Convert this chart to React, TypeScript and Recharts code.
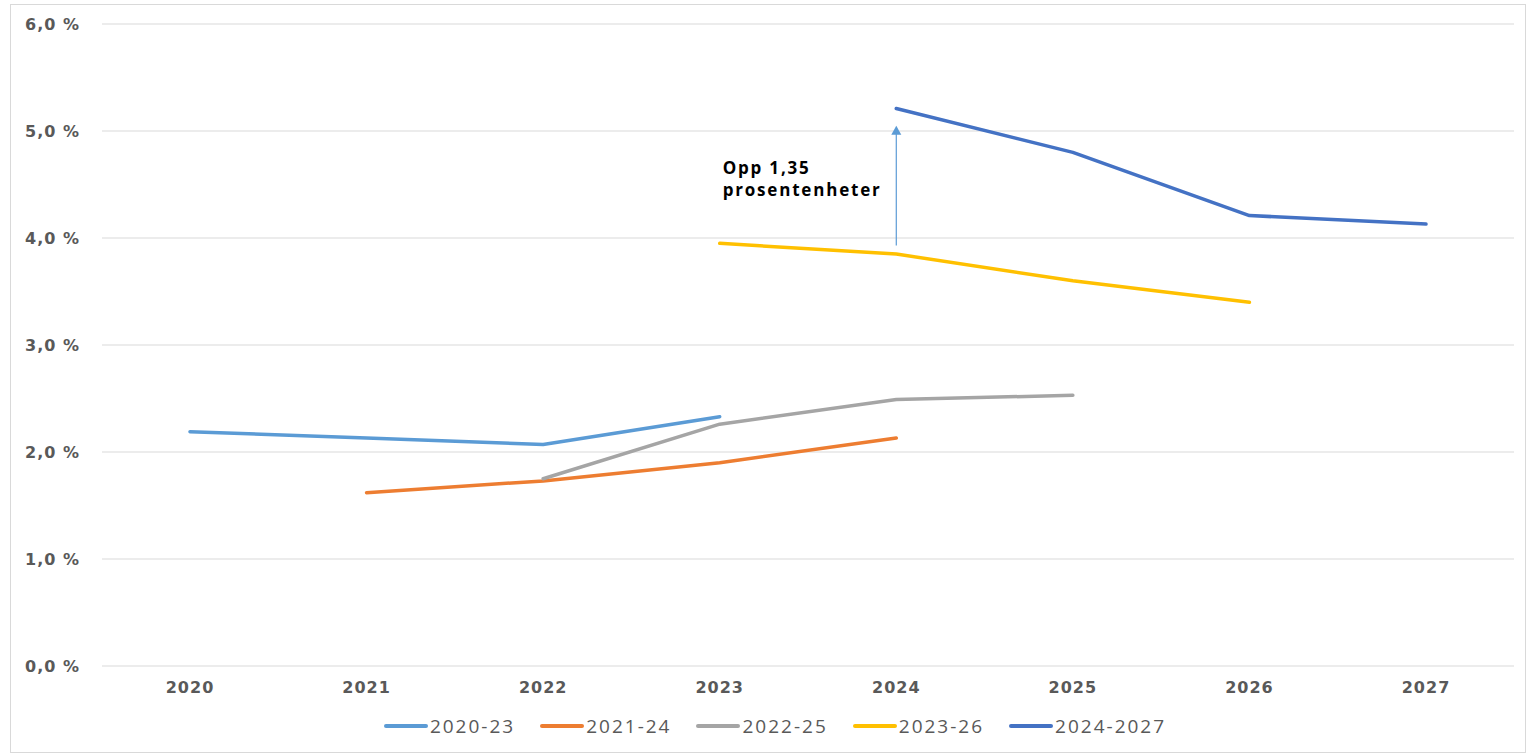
import React from 'react';
import { LineChart, Line, XAxis, YAxis, CartesianGrid, ReferenceLine, ReferenceDot } from 'recharts';

const YEARS = ['2020', '2021', '2022', '2023', '2024', '2025', '2026', '2027'];
const S_2020_23 = [2.19, 2.13, 2.07, 2.33, null, null, null, null];
const S_2021_24 = [null, 1.62, 1.73, 1.9, 2.13, null, null, null];
const S_2022_25 = [null, null, 1.75, 2.26, 2.49, 2.53, null, null];
const S_2023_26 = [null, null, null, 3.95, 3.85, 3.6, 3.4, null];
const S_2024_27 = [null, null, null, null, 5.21, 4.8, 4.21, 4.13];
const Y_TICKS = [0, 1, 2, 3, 4, 5, 6];

const SERIES = [
  { key: '2020-23', values: S_2020_23, color: '#5B9BD5' },
  { key: '2021-24', values: S_2021_24, color: '#ED7D31' },
  { key: '2022-25', values: S_2022_25, color: '#A5A5A5' },
  { key: '2023-26', values: S_2023_26, color: '#FFC000' },
  { key: '2024-2027', values: S_2024_27, color: '#4472C4' },
];

const data = YEARS.map((year, i) => {
  const row: any = { year };
  SERIES.forEach((s) => { row[s.key] = s.values[i]; });
  return row;
});

const fmtPct = (v: number) => `${v.toFixed(1).replace('.', ',')} %`;

const tickStyle = { fill: '#595959', fontSize: 16, fontWeight: 700, fontFamily: 'DejaVu Sans', letterSpacing: 1 };

function Arrow(props: any) {
  const { x1, y1, x2, y2 } = props;
  const top = Math.min(y1, y2);
  const bottom = Math.max(y1, y2);
  return (
    <g>
      <line x1={x1} y1={bottom} x2={x2} y2={top + 8} stroke="#5B9BD5" strokeWidth={1.2} />
      <polygon points={`${x1 - 5},${top + 9} ${x1 + 5},${top + 9} ${x1},${top}`} fill="#5B9BD5" />
    </g>
  );
}

function Note(props: any) {
  const { cx, cy } = props;
  const st = { fontFamily: 'Open Sans', fontWeight: 700, fontSize: 17, letterSpacing: 1.8, fill: '#000' };
  return (
    <text x={cx + 3} y={cy} style={st}>
      <tspan x={cx + 3} dy={0}>Opp 1,35</tspan>
      <tspan x={cx + 3} dy={22}>prosentenheter</tspan>
    </text>
  );
}

export default function App() {
  return (
    <div style={{ position: 'absolute', left: 0, top: 0, width: 1530, height: 753, background: '#fff' }}>
      <div style={{ position: 'absolute', left: 10, top: 4, width: 1514, height: 747, border: '1px solid #d9d9d9' }} />
      <div style={{ position: 'absolute', left: 0, top: 0 }}>
        <LineChart width={1530} height={753} data={data} margin={{ top: 24, right: 16, bottom: 57, left: 0 }}>
          <CartesianGrid vertical={false} stroke="#d9d9d9" strokeWidth={1.2} />
          <XAxis dataKey="year" axisLine={false} tickLine={false} tickSize={0} tickMargin={16} height={30} tick={tickStyle} interval={0} padding={{ left: 88, right: 88 }} />
          <YAxis domain={[0, 6]} ticks={Y_TICKS} tickFormatter={fmtPct} axisLine={false} tickLine={false} tickSize={0} tickMargin={22} width={102} tick={tickStyle} />
          {SERIES.map((s) => (
            <Line key={s.key} dataKey={s.key} stroke={s.color} strokeWidth={3.5} dot={false} activeDot={false} isAnimationActive={false} strokeLinecap="round" strokeLinejoin="round" />
          ))}
          <ReferenceLine segment={[{ x: '2024', y: 3.93 }, { x: '2024', y: 5.05 }]} shape={(p: any) => <Arrow {...p} />} />
          <ReferenceDot x="2023" y={4.6} r={0} shape={(p: any) => <Note {...p} />} />
        </LineChart>
      </div>
      <div style={{ position: 'absolute', left: 0, top: 713, width: 1530, display: 'flex', justifyContent: 'center', gap: 25, marginLeft: 10 }}>
        {SERIES.map((s) => (
          <div key={s.key} style={{ display: 'flex', alignItems: 'center' }}>
            <div style={{ width: 44, height: 4, borderRadius: 2, background: s.color, marginRight: 2 }} />
            <span style={{ fontFamily: 'Open Sans', fontSize: 19, letterSpacing: 2, color: '#595959' }}>{s.key}</span>
          </div>
        ))}
      </div>
    </div>
  );
}
